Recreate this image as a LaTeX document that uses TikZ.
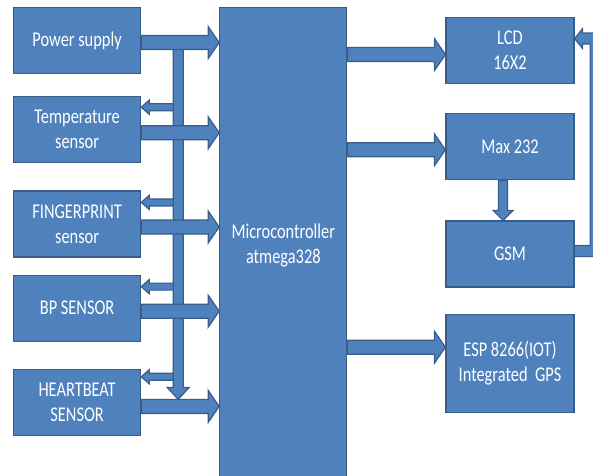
\documentclass[tikz,border=0pt]{standalone}
\usepackage{fontspec}
\setmainfont{Carlito}[FakeStretch=0.78]
\definecolor{boxfill}{RGB}{79,129,189}
\definecolor{boxedge}{RGB}{56,93,138}
\usetikzlibrary{positioning, calc}
\tikzset{
	unit/.style={rectangle, draw=boxedge, fill=boxfill, line width=1.2pt, text=white, align=center, minimum width=127pt, minimum height=66pt, inner sep=1pt, font=\fontsize{21}{25}\selectfont},
	fatarrow/.style n args={3}{draw=boxedge, fill=boxfill, line width=1.2pt, line join=miter,
		to path={let \p1=(\tikztostart), \p2=(\tikztotarget), \n1={atan2(\y2-\y1,\x2-\x1)} in
			($(\p1)+(\n1+90:#1)$) -- ($(\p2)+(\n1+180:#3)+(\n1+90:#1)$) -- ($(\p2)+(\n1+180:#3)+(\n1+90:#2)$)
			-- (\p2) -- ($(\p2)+(\n1+180:#3)+(\n1-90:#2)$) -- ($(\p2)+(\n1+180:#3)+(\n1-90:#1)$)
			-- ($(\p1)+(\n1-90:#1)$) -- cycle}},
	bigarrow/.style={fatarrow={7pt}{16pt}{11pt}},
	smallarrow/.style={fatarrow={3.5pt}{7pt}{8pt}},
	busarrow/.style={fatarrow={5pt}{11pt}{12pt}},
	downarrow/.style={fatarrow={4.5pt}{10pt}{10pt}},
	looparrow/.style={draw=boxedge, fill=boxfill, line width=1.2pt, line join=miter},
}

\begin{document}
\begin{tikzpicture}[x=1pt, y=1pt]
	\useasboundingbox (0,0) rectangle (593,475);
	% sensors
	\node[unit, anchor=north west] (power) at (13,468) {Power supply};
	\node[unit, below=22pt of power] (temp) {Temperature\\sensor};
	\node[unit, below=27pt of temp] (finger) {FINGERPRINT\\sensor};
	\node[unit, below=17pt of finger] (bp) {BP SENSOR};
	\node[unit, below=27pt of bp] (heart) {HEARTBEAT\\SENSOR};
	% controller
	\node[unit, anchor=north west, minimum height=475pt] (mc) at ([xshift=78pt]power.north east) {Microcontroller\\atmega328};
	% outputs
	\node[unit, minimum width=128pt, anchor=north west] (lcd) at ([xshift=98pt, yshift=-10pt]mc.north east) {LCD\\16X2};
	\node[unit, minimum width=128pt, below=29pt of lcd] (max) {Max 232};
	\node[unit, minimum width=128pt, below=40pt of max] (gsm) {GSM};
	\node[unit, minimum width=128pt, minimum height=98pt, below=26pt of gsm] (esp) {ESP 8266(IOT)\\Integrated~~GPS};
	% supply bus
	\coordinate (bustop) at ([xshift=37pt, yshift=-2pt]power.east);
	\coordinate (busend) at ([yshift=3pt]bustop |- heart.east);
	\foreach \blk/\dy in {temp/11, finger/12, bp/12, heart/8}
		\draw[smallarrow] ([yshift=-\dy pt]\blk.north east -| bustop) to ([yshift=-\dy pt]\blk.north east);
	\draw[busarrow] (bustop) to (busend);
	\foreach \blk/\dy in {power/-2, temp/-3, finger/-3, bp/-3, heart/-4}
		\draw[bigarrow] ([yshift=\dy pt]\blk.east) to ([yshift=\dy pt]\blk.east -| mc.west);
	% controller to outputs
	\foreach \blk/\dy in {lcd/-4, max/-3, esp/16}
		\draw[bigarrow] ([yshift=\dy pt]\blk.west -| mc.east) to ([yshift=\dy pt]\blk.west);
	\draw[downarrow] ([xshift=-7pt]max.south) to ([xshift=-7pt]max.south |- gsm.north);
	% gsm back to lcd
	\coordinate (gsmout) at ([yshift=3pt]gsm.east);
	\coordinate (lcdin) at ([yshift=12pt]lcd.east);
	\coordinate (loopx) at ([xshift=21pt]lcd.east);
	\draw[looparrow] ($(gsmout)+(0,-5.5)$) -- ($(gsmout -| loopx)+(5.5,-5.5)$) -- ($(lcdin -| loopx)+(5.5,5.5)$)
		-- ($(lcdin)+(8,5.5)$) -- ($(lcdin)+(8,10)$) -- (lcdin) -- ($(lcdin)+(8,-10)$) -- ($(lcdin)+(8,-5.5)$)
		-- ($(lcdin -| loopx)+(-5.5,-5.5)$) -- ($(gsmout -| loopx)+(-5.5,5.5)$) -- ($(gsmout)+(0,5.5)$) -- cycle;
\end{tikzpicture}
\end{document}
